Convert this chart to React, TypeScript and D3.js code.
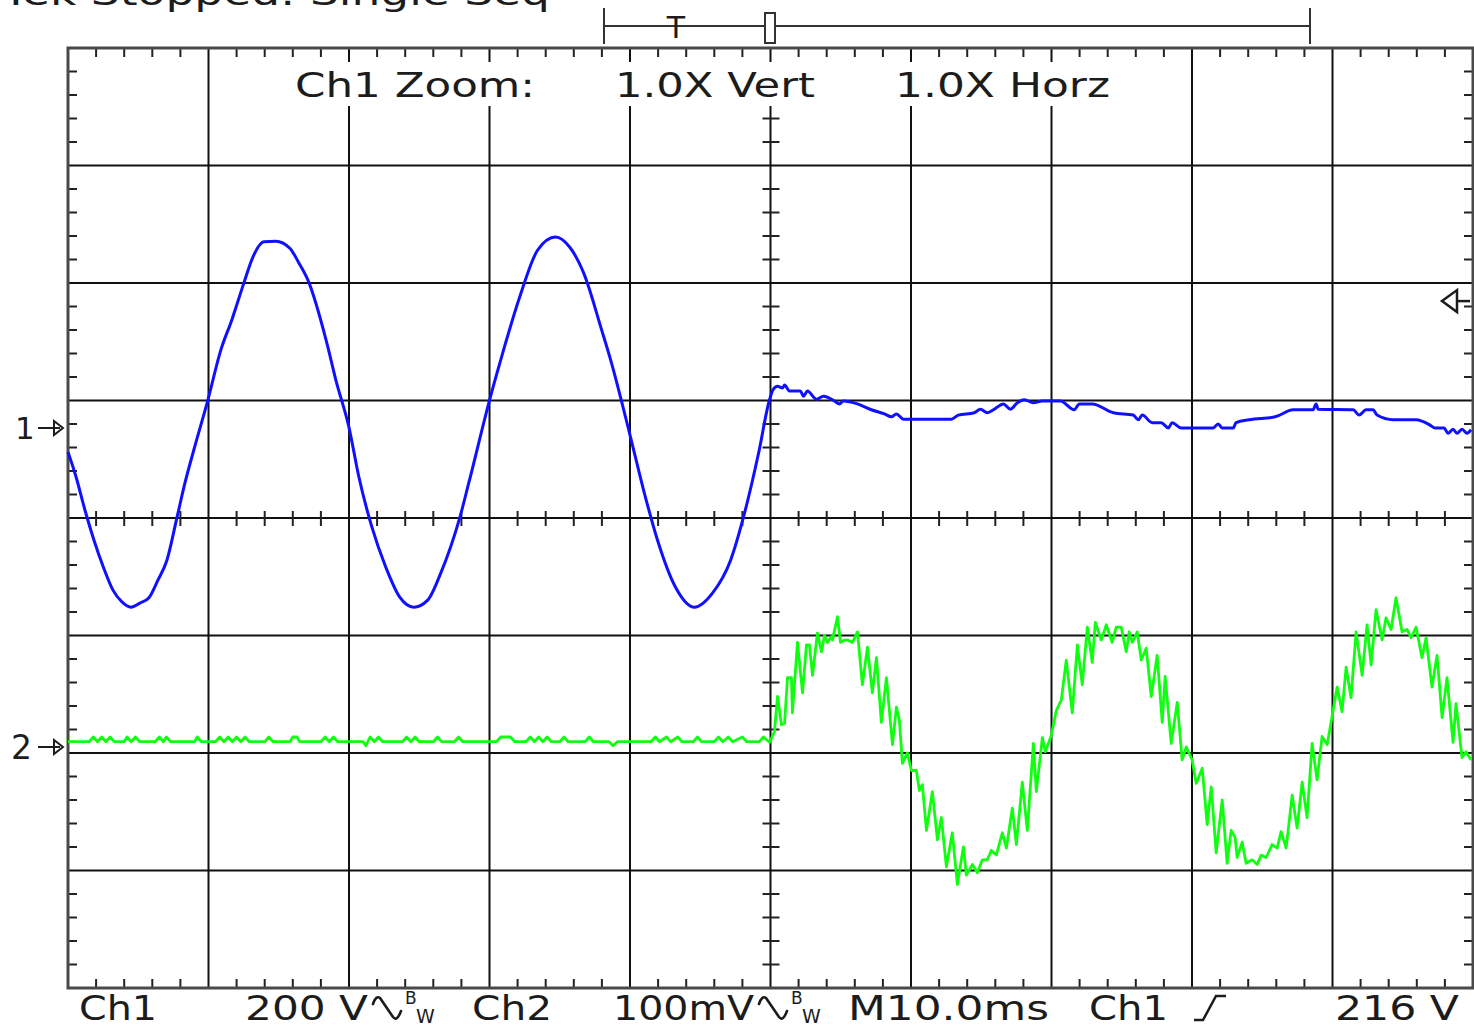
import * as d3 from "d3";

// screen / scope settings
const divsX = 10;
const divsY = 8;
const msPerDiv = 10;
const ch1VoltsPerDiv = 200;
const ch2MilliVoltsPerDiv = 100;
const ch1Offset = 0.766; // ground marker "1", in divisions above centre
const ch2Offset = -1.949; // ground marker "2"
const triggerVolts = 216;

const titleText = "Tek Stopped: Single Seq";
const zoomLabels = ["Ch1 Zoom:", "1.0X Vert", "1.0X Horz"];
const readout = ["Ch1", "200 V", "Ch2", "100mV", "M10.0ms", "Ch1", "216 V"];

// Ch1 trace: [time ms, volts]
const ch1Trace: [number, number][] = [
  [0.0, -41], [0.57, -83], [1.21, -140], [1.85, -191], [2.52, -237], [3.2, -276], [3.84, -296],
  [4.48, -305], [5.12, -298], [5.76, -289], [6.4, -259], [7.04, -225], [7.75, -153], [8.32, -94],
  [8.96, -37], [9.96, 48], [10.88, 133], [11.66, 184], [12.52, 247], [13.16, 291], [13.94, 317],
  [14.79, 318], [15.79, 306], [16.43, 281], [17.07, 252], [18.42, 145], [19.06, 82], [19.99, 2],
  [20.7, -83], [21.62, -168], [22.62, -237], [23.61, -288], [24.61, -305], [25.6, -293], [26.53, -247],
  [27.88, -153], [28.52, -94], [30.01, 48], [30.8, 116], [32.15, 223], [33.43, 303], [34.71, 325],
  [35.7, 308], [36.7, 264], [37.98, 167], [38.62, 116], [39.97, -9], [40.97, -106], [41.96, -191],
  [43.24, -271], [44.59, -305], [45.87, -281], [47.16, -225], [48.15, -145], [49.15, -43], [49.93, 48],
  [50.18, 65], [50.5, 71], [50.85, 68], [51.0, 73], [51.35, 63], [52.13, 63], [52.35, 54], [52.63, 63],
  [53.27, 49], [53.77, 54], [54.55, 46], [54.91, 41], [55.19, 46], [56.19, 41], [57.18, 31], [58.11, 24],
  [58.61, 19], [58.96, 24], [59.46, 15], [60.24, 15], [62.87, 15], [63.37, 22], [64.51, 26], [64.94, 32],
  [65.43, 26], [65.93, 32], [66.57, 41], [67.07, 32], [67.57, 43], [68.07, 48], [68.71, 43], [69.35, 46],
  [70.63, 46], [71.62, 31], [71.98, 41], [72.9, 41], [74.4, 26], [75.82, 22], [76.17, 14], [76.46, 22],
  [77.17, 9], [77.81, 9], [78.31, 0], [78.59, 9], [79.23, 0], [81.51, 0], [81.86, 7], [82.15, 0],
  [82.93, 0], [83.14, 9], [84.07, 14], [85.92, 19], [87.2, 31], [88.62, 31], [88.83, 41], [88.98, 32],
  [91.47, 31], [91.89, 22], [92.39, 31], [92.89, 31], [93.17, 22], [94.31, 14], [95.95, 14], [96.94, 5],
  [97.3, 0], [97.94, 0], [98.22, -9], [98.58, -2], [98.86, -9], [99.22, -2], [99.57, -9], [99.86, -3],
];

// Ch2 trace: [time ms, millivolts]
const ch2Trace: [number, number][] = [
  [0, 4.5], [1.5, 4.5], [1.8, 8.5], [2.1, 4.5], [2.4, 8.5], [2.7, 4.5], [3.0, 8.5], [3.3, 4.5],
  [4.0, 4.5], [4.2, 8.5], [4.5, 4.5], [4.8, 8.5], [5.1, 4.5], [6.2, 4.5], [6.5, 8.5], [6.8, 4.5],
  [7.0, 8.5], [7.3, 4.5], [9.0, 4.5], [9.2, 8.5], [9.5, 4.5], [10.5, 4.5], [10.8, 8.5], [11.1, 4.5],
  [11.4, 8.5], [11.7, 4.5], [12.0, 8.5], [12.3, 4.5], [12.6, 8.5], [12.9, 4.5], [14.0, 4.5], [14.3, 8.5],
  [14.6, 4.5], [15.8, 4.5], [16.0, 8.5], [16.3, 8.5], [16.5, 4.5], [18.0, 4.5], [18.3, 8.5], [18.6, 4.5],
  [18.9, 8.5], [19.2, 4.5], [21.0, 4.5], [21.2, 1], [21.5, 8.5], [21.8, 4.5], [22.1, 8.5], [22.4, 4.5],
  [23.8, 4.5], [24.1, 8.5], [24.4, 4.5], [24.7, 8.5], [25.0, 4.5], [26.0, 4.5], [26.3, 8.5], [26.6, 4.5],
  [27.5, 4.5], [27.8, 8.5], [28.1, 4.5], [30.5, 4.5], [30.8, 8.5], [31.5, 8.5], [31.8, 4.5], [32.6, 4.5],
  [32.9, 8.5], [33.2, 4.5], [33.5, 8.5], [33.8, 4.5], [34.1, 8.5], [34.4, 4.5], [35.0, 4.5], [35.3, 8.5],
  [35.6, 4.5], [36.8, 4.5], [37.1, 8.5], [37.4, 4.5], [38.5, 4.5], [38.8, 1], [39.1, 4.5], [41.5, 4.5],
  [41.8, 8.5], [42.1, 4.5], [42.6, 8.5], [42.9, 4.5], [43.4, 8.5], [43.7, 4.5], [44.5, 4.5], [44.8, 8.5],
  [45.1, 4.5], [46.0, 4.5], [46.3, 8.5], [46.6, 4.5], [47.0, 8.5], [47.3, 4.5], [48.0, 8.5], [48.3, 4.5],
  [49.2, 4.5], [49.5, 8.5], [49.93, 4],
  [50.28, 13], [50.5, 43], [50.78, 19], [51.0, 20], [51.21, 59], [51.49, 59], [51.56, 29], [51.92, 89],
  [52.28, 46], [52.56, 87], [52.77, 87], [52.99, 61], [53.34, 97], [53.63, 81], [53.84, 95], [54.05, 89],
  [54.34, 94], [54.41, 91], [54.77, 111], [54.98, 89], [55.26, 91], [55.48, 91], [55.83, 89], [56.19, 98],
  [56.54, 53], [56.9, 85], [57.25, 46], [57.54, 76], [57.89, 21], [58.25, 59], [58.68, 2], [58.96, 34],
  [59.17, 23], [59.39, -14], [59.74, -5], [60.03, -20], [60.38, -20], [60.6, -37], [60.81, -32], [61.1, -71],
  [61.52, -38], [61.88, -79], [62.16, -60], [62.52, -102], [62.94, -73], [63.3, -117], [63.73, -85],
  [63.94, -109], [64.37, -100], [64.72, -107], [65.08, -96], [65.43, -96], [65.72, -88], [66.07, -92],
  [66.5, -73], [66.79, -86], [67.21, -52], [67.5, -83], [67.92, -30], [68.28, -71], [68.71, 3], [68.92, -38],
  [69.35, 8], [69.56, -4], [69.99, 10], [70.34, 31], [70.7, 40], [71.05, 74], [71.48, 29], [71.84, 87],
  [72.19, 53], [72.55, 102], [72.9, 72], [73.12, 106], [73.54, 91], [73.9, 104], [74.32, 89], [74.61, 102],
  [74.96, 102], [75.32, 81], [75.53, 98], [75.75, 89], [76.1, 98], [76.39, 74], [76.74, 84], [77.1, 43],
  [77.52, 78], [77.88, 21], [78.09, 60], [78.52, 3], [78.95, 38], [79.3, -11], [79.59, 0], [80.01, -11],
  [80.3, -31], [80.73, -18], [81.08, -66], [81.37, -34], [81.72, -90], [82.15, -45], [82.5, -99], [82.79, -71],
  [83.07, -77], [83.21, -94], [83.57, -81], [83.85, -99], [84.28, -96], [84.64, -100], [84.92, -92],
  [85.28, -94], [85.7, -83], [86.06, -86], [86.34, -72], [86.7, -86], [87.13, -41], [87.48, -69], [87.84, -30],
  [88.19, -60], [88.55, 3], [88.9, -28], [89.26, 9], [89.62, 2], [89.97, 26], [90.33, 51], [90.68, 30],
  [90.97, 68], [91.32, 42], [91.68, 98], [92.11, 61], [92.46, 104], [92.75, 70], [93.1, 117], [93.53, 91],
  [93.81, 110], [94.17, 100], [94.52, 127], [94.95, 98], [95.31, 100], [95.59, 93], [95.95, 102], [96.37, 76],
  [96.66, 93], [97.08, 51], [97.44, 78], [97.8, 25], [98.15, 59], [98.58, 4], [98.79, 37], [99.22, -9],
  [99.5, -4], [99.86, -11],
];

// bandwidth-limit glyph drawn after a volts/div readout
function BwMark({ x0 }: { x0: number }) {
  return (
    <g>
      <path
        d={`M${x0},${1004} Q${x0 + 3},${995} ${x0 + 7},${998} L${x0 + 20},${1017} Q${x0 + 24},${1022} ${x0 + 28},${1011}`}
        fill="none" stroke="#1c1c1c" strokeWidth={2.6} strokeLinecap="round" />
      <text x={x0 + 32} y={1004} fontSize={17}>B</text>
      <text x={x0 + 43} y={1023} fontSize={19}>W</text>
    </g>
  );
}

export default function App() {
  const W = 1474;
  const H = 1027;
  const left = 68, right = 1473, top = 48, bottom = 988;
  const x = d3.scaleLinear([0, divsX * msPerDiv], [left, right]);
  const y = d3.scaleLinear([-divsY / 2, divsY / 2], [bottom, top]);

  const ch1Line = d3.line<[number, number]>()
    .x(d => x(d[0]))
    .y(d => y(d[1] / ch1VoltsPerDiv + ch1Offset))
    .curve(d3.curveMonotoneX);
  const ch2Line = d3.line<[number, number]>()
    .x(d => x(d[0]))
    .y(d => y(d[1] / ch2MilliVoltsPerDiv + ch2Offset));

  const xMajor = d3.range(1, divsX).map(i => i * msPerDiv);
  const yMajor = d3.range(-divsY / 2 + 1, divsY / 2);
  const xMinor = d3.range(1, divsX * 5).filter(i => i % 5 !== 0).map(i => (i * msPerDiv) / 5);
  const yMinor = d3.range(1, divsY * 5).filter(i => i % 5 !== 0).map(i => -divsY / 2 + i / 5);
  const cx = x((divsX * msPerDiv) / 2);
  const cy = y(0);
  const y1 = y(ch1Offset);
  const y2 = y(ch2Offset);
  const yTrig = y(triggerVolts / ch1VoltsPerDiv + ch1Offset);

  const ink = "#1c1c1c";
  const tick = 9;

  return (
    <svg width={W} height={H} style={{ position: "absolute", left: 0, top: 0, display: "block" }}
      fontFamily="'DejaVu Sans', sans-serif" fill={ink}>
      <rect width={W} height={H} fill="#fff" />

      {/* status line, cut off at the top like the screenshot */}
      <text x={2} y={5} fontSize={34} textLength={548} lengthAdjust="spacingAndGlyphs">{titleText}</text>

      {/* record view bar */}
      <g stroke="#333" strokeWidth={2}>
        <line x1={604} x2={1310} y1={26} y2={26} />
        <line x1={604} x2={604} y1={8} y2={44} />
        <line x1={1310} x2={1310} y1={8} y2={44} />
        <rect x={765} y={13} width={10} height={30} fill="#fff" />
      </g>
      <text x={676} y={38} fontSize={30} textAnchor="middle">T</text>

      {/* major grid */}
      <g stroke="#111" strokeWidth={2}>
        {xMajor.map(t => <line key={"vx" + t} x1={x(t)} x2={x(t)} y1={top} y2={bottom} />)}
        {yMajor.map(v => <line key={"hy" + v} x1={left} x2={right} y1={y(v)} y2={y(v)} />)}
      </g>

      {/* minor ticks on border and centre lines */}
      <g stroke="#222" strokeWidth={2}>
        {xMinor.map(t => (
          <g key={"mx" + t}>
            <line x1={x(t)} x2={x(t)} y1={top} y2={top + tick} />
            <line x1={x(t)} x2={x(t)} y1={bottom} y2={bottom - tick} />
            <line x1={x(t)} x2={x(t)} y1={cy - 7} y2={cy + 8} />
          </g>
        ))}
        {yMinor.map(v => (
          <g key={"my" + v}>
            <line x1={left} x2={left + tick} y1={y(v)} y2={y(v)} />
            <line x1={right} x2={right - tick} y1={y(v)} y2={y(v)} />
            <line x1={cx - 8} x2={cx + 9} y1={y(v)} y2={y(v)} />
          </g>
        ))}
      </g>

      {/* border */}
      <rect x={left} y={top} width={right - left} height={bottom - top} fill="none" stroke="#4a4a4a" strokeWidth={3} />

      {/* zoom header */}
      <rect x={290} y={62} width={826} height={44} fill="#fff" />
      <text x={295} y={97} fontSize={34} textLength={240} lengthAdjust="spacingAndGlyphs">{zoomLabels[0]}</text>
      <text x={615} y={97} fontSize={34} textLength={200} lengthAdjust="spacingAndGlyphs">{zoomLabels[1]}</text>
      <text x={895} y={97} fontSize={34} textLength={215} lengthAdjust="spacingAndGlyphs">{zoomLabels[2]}</text>

      {/* traces */}
      <path d={ch1Line(ch1Trace) ?? ""} fill="none" stroke="#1010ff" strokeWidth={3} strokeLinejoin="round" />
      <path d={ch2Line(ch2Trace) ?? ""} fill="none" stroke="#10ff10" strokeWidth={2.8} strokeLinejoin="round" />

      {/* ground markers */}
      <text x={15} y={y1 + 11} fontSize={31}>1</text>
      <g stroke={ink} strokeWidth={2} fill="none">
        <line x1={38} x2={60} y1={y1} y2={y1} />
        <path d={`M54,${y1 - 7} L63,${y1} L54,${y1 + 7} Z`} />
      </g>
      <text x={11} y={y2 + 12} fontSize={33}>2</text>
      <g stroke={ink} strokeWidth={2} fill="none">
        <line x1={38} x2={60} y1={y2} y2={y2} />
        <path d={`M54,${y2 - 7} L63,${y2} L54,${y2 + 7} Z`} />
      </g>

      {/* trigger level marker */}
      <g stroke={ink} strokeWidth={2.5} fill="none">
        <path d={`M1442,${yTrig} L1457,${yTrig - 11} L1457,${yTrig + 11} Z`} />
        <line x1={1457} x2={1470} y1={yTrig} y2={yTrig} />
      </g>

      {/* readout */}
      <g fontSize={33}>
        <text x={79} y={1020} textLength={78} lengthAdjust="spacingAndGlyphs">{readout[0]}</text>
        <text x={245} y={1020} textLength={123} lengthAdjust="spacingAndGlyphs">{readout[1]}</text>
        <text x={472} y={1020} textLength={80} lengthAdjust="spacingAndGlyphs">{readout[2]}</text>
        <text x={613} y={1020} textLength={141} lengthAdjust="spacingAndGlyphs">{readout[3]}</text>
        <text x={848} y={1020} textLength={201} lengthAdjust="spacingAndGlyphs">{readout[4]}</text>
        <text x={1089} y={1020} textLength={79} lengthAdjust="spacingAndGlyphs">{readout[5]}</text>
        <text x={1335} y={1020} textLength={124} lengthAdjust="spacingAndGlyphs">{readout[6]}</text>
      </g>
      <BwMark x0={373} />
      <BwMark x0={759} />
      <path d="M1194,1020 L1203,1020 L1216,996 L1226,996" fill="none" stroke={ink} strokeWidth={2.5} />
    </svg>
  );
}
